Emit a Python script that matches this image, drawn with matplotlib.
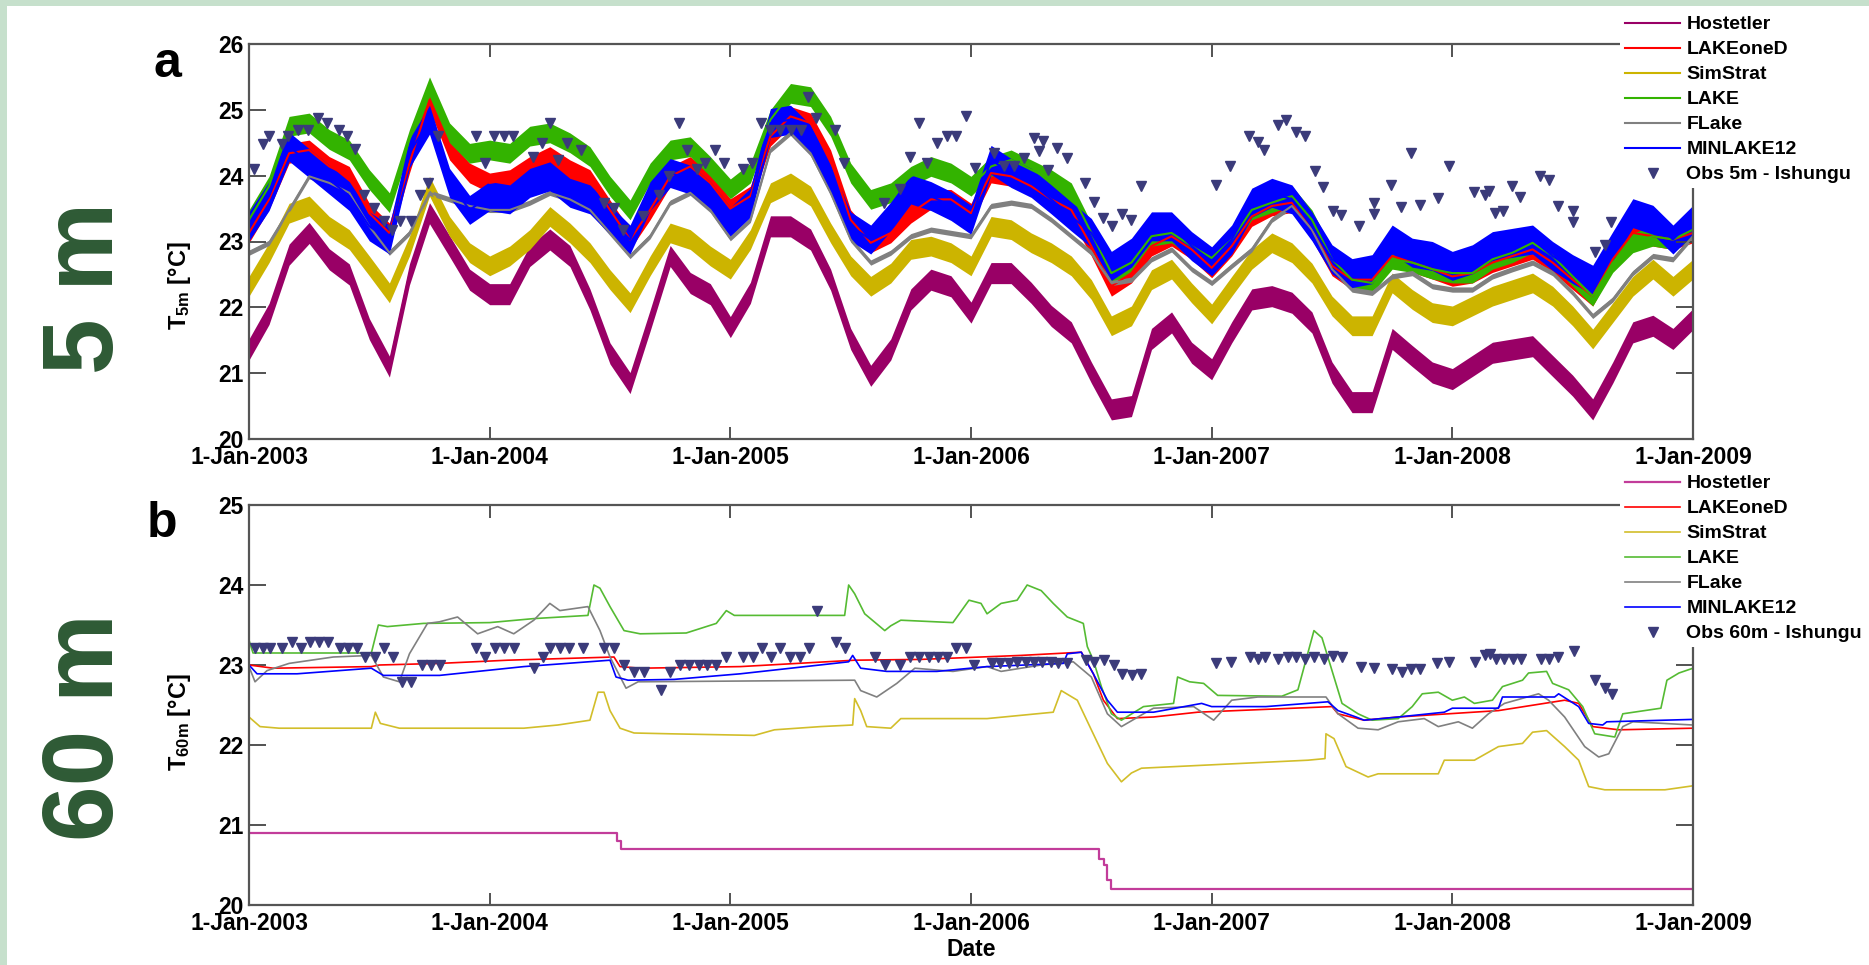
import numpy as np
import matplotlib.pyplot as plt
from matplotlib.patches import Rectangle

plt.rcParams['font.family'] = ['Liberation Sans', 'DejaVu Sans']
plt.rcParams['font.weight'] = 'bold'
plt.rcParams['axes.labelweight'] = 'bold'
plt.rcParams['mathtext.fontset'] = 'custom'
plt.rcParams['mathtext.bf'] = 'Liberation Sans:bold'
plt.rcParams['mathtext.rm'] = 'Liberation Sans:bold'
plt.rcParams['mathtext.default'] = 'bf'

models = ['Hostetler', 'LAKEoneD', 'SimStrat', 'LAKE', 'FLake', 'MINLAKE12']
colors_a = ['#990066', '#ff0000', '#ccb400', '#33b300', '#808080', '#0000ff']
colors_b = ['#c23c9a', '#ff0000', '#d2be2a', '#55bb33', '#808080', '#0000ff']
obs_color = '#3b3b7a'
years = list(range(2003, 2010))

# ---- panel a: 5 m, monthly values from Jan 2003 (month index 0..72)
months_a = np.arange(73)
hostetler_5m = [21.36, 21.9, 22.8, 23.13, 22.73, 22.5, 21.67, 21.1, 22.5, 23.43, 22.93, 22.42, 22.2,
                22.2, 22.78, 23.03, 22.78, 22.12, 21.3, 20.85, 21.8, 22.78, 22.37, 22.2, 21.7,
                22.22, 23.23, 23.23, 23.03, 22.42, 21.52, 20.96, 21.36, 22.12, 22.42, 22.32, 21.92,
                22.52, 22.52, 22.22, 21.87, 21.62, 21.01, 20.45, 20.5, 21.52, 21.77, 21.31, 21.06,
                21.62, 22.12, 22.17, 22.07, 21.77, 21.01, 20.56, 20.56, 21.52, 21.26, 21.01, 20.91,
                21.11, 21.31, 21.36, 21.41, 21.11, 20.81, 20.45, 21.01, 21.62, 21.72, 21.52, 21.82]
lakeoned_5m = [23.13, 23.64, 24.34, 24.39, 24.14, 23.99, 23.43, 23.13, 24.19, 25.15, 24.39, 24.04, 23.89,
               23.94, 24.14, 24.29, 24.09, 23.94, 23.48, 23.03, 23.48, 23.99, 24.14, 23.89, 23.5,
               23.69, 24.6, 24.9, 24.8, 24.24, 23.33, 22.98, 23.13, 23.43, 23.64, 23.64, 23.43,
               24.04, 23.99, 23.84, 23.64, 23.48, 22.93, 22.32, 22.52, 22.93, 23.08, 22.88, 22.6,
               22.93, 23.38, 23.54, 23.59, 23.18, 22.63, 22.42, 22.42, 22.78, 22.68, 22.58, 22.47,
               22.52, 22.68, 22.78, 22.88, 22.68, 22.42, 22.17, 22.73, 23.13, 23.08, 23.03, 23.13]
simstrat_5m = [22.32, 22.83, 23.43, 23.54, 23.23, 23.03, 22.63, 22.22, 22.93, 23.84, 23.23, 22.83, 22.63,
               22.78, 23.03, 23.38, 23.13, 22.83, 22.42, 22.07, 22.63, 23.13, 23.03, 22.78, 22.58,
               23.03, 23.74, 23.89, 23.69, 23.13, 22.63, 22.32, 22.52, 22.88, 22.93, 22.83, 22.63,
               23.23, 23.18, 22.98, 22.83, 22.63, 22.27, 21.72, 21.87, 22.42, 22.58, 22.22, 21.9,
               22.32, 22.73, 22.98, 22.83, 22.52, 22.02, 21.72, 21.72, 22.37, 22.12, 21.92, 21.87,
               22.02, 22.17, 22.27, 22.37, 22.17, 21.87, 21.52, 21.92, 22.32, 22.58, 22.32, 22.58]
lake_5m = [23.33, 23.84, 24.75, 24.8, 24.55, 24.39, 23.94, 23.59, 24.55, 25.35, 24.65, 24.34, 24.39,
           24.34, 24.6, 24.65, 24.5, 24.29, 23.84, 23.48, 24.04, 24.39, 24.44, 24.14, 23.8,
           24.04, 24.85, 25.25, 25.2, 24.75, 24.04, 23.64, 23.74, 23.99, 24.14, 24.04, 23.84,
           24.14, 24.24, 24.09, 23.94, 23.74, 23.13, 22.52, 22.68, 23.08, 23.13, 22.93, 22.75,
           23.03, 23.48, 23.59, 23.69, 23.33, 22.73, 22.42, 22.37, 22.73, 22.68, 22.58, 22.52,
           22.52, 22.73, 22.83, 22.98, 22.78, 22.47, 22.17, 22.68, 22.98, 23.08, 23.03, 23.18]
flake_5m = [22.83, 22.98, 23.48, 23.99, 23.89, 23.74, 23.23, 22.83, 23.13, 23.74, 23.64, 23.54, 23.48,
            23.48, 23.59, 23.74, 23.64, 23.48, 23.13, 22.78, 23.08, 23.59, 23.74, 23.48, 23.05,
            23.33, 24.39, 24.65, 24.34, 23.74, 23.03, 22.68, 22.83, 23.08, 23.18, 23.13, 23.08,
            23.54, 23.59, 23.54, 23.33, 23.08, 22.83, 22.37, 22.42, 22.73, 22.88, 22.58, 22.37,
            22.63, 22.88, 23.33, 23.54, 23.18, 22.58, 22.27, 22.22, 22.47, 22.52, 22.32, 22.27,
            22.27, 22.47, 22.58, 22.68, 22.52, 22.22, 21.87, 22.12, 22.52, 22.78, 22.73, 23.08]
minlake_5m = [23.23, 23.69, 24.44, 24.19, 23.94, 23.69, 23.23, 23.03, 24.34, 24.85, 23.89, 23.48, 23.69,
              23.64, 23.89, 23.99, 23.74, 23.64, 23.33, 23.03, 23.69, 24.04, 23.94, 23.69, 23.3,
              23.59, 24.8, 24.85, 24.55, 23.94, 23.23, 23.03, 23.38, 23.79, 23.69, 23.54, 23.33,
              24.24, 24.04, 23.89, 23.64, 23.38, 23.13, 22.63, 22.83, 23.23, 23.23, 22.93, 22.7,
              23.03, 23.59, 23.74, 23.64, 23.23, 22.73, 22.52, 22.58, 23.03, 22.83, 22.78, 22.63,
              22.73, 22.93, 22.98, 23.03, 22.78, 22.58, 22.42, 22.93, 23.43, 23.33, 23.03, 23.33]
# half-width of the daily scatter around each model curve (deg C)
spread_5m = [0.16, 0.15, 0.15, 0.15, 0.04, 0.22]

obs5_m = [0.25, 0.68, 1.01, 1.63, 1.96, 2.46, 2.96, 3.46, 3.91, 4.51, 4.88, 5.29, 5.74, 6.21, 6.71,
          7.12, 7.54, 8.07, 8.54, 8.95, 9.40, 11.30, 11.75, 12.23, 12.70, 13.16, 14.16, 14.61, 15.02,
          15.39, 15.86, 16.56, 17.69, 18.19, 18.65, 19.65, 20.43, 20.93, 21.43, 21.85, 22.35, 22.76,
          23.26, 23.68, 24.63, 25.08, 25.53, 25.99, 26.5, 27.0, 27.5, 27.86, 28.29, 29.24, 29.69,
          31.65, 32.48, 32.95, 33.40, 33.81, 34.28, 34.81, 35.24, 35.73, 36.18, 37.14, 37.64, 38.14,
          38.64, 39.14, 39.38, 39.60, 39.84, 40.30, 40.77, 41.66, 42.13, 42.59, 43.04, 43.54, 43.99,
          44.46, 48.2, 48.93, 49.86, 50.33, 50.63, 51.33, 51.69, 52.19, 52.63, 53.16, 53.54, 54.03,
          54.46, 55.37, 56.07, 56.07, 56.94, 57.43, 57.92, 58.40, 59.28, 59.85, 61.06, 61.61, 61.81,
          62.14, 62.51, 62.97, 63.39, 64.39, 64.84, 65.27, 66.02, 66.02, 67.10, 67.60, 67.93, 69.96]
obs5_t = [24.10, 24.48, 24.60, 24.48, 24.60, 24.70, 24.70, 24.87, 24.80, 24.70, 24.60, 24.40, 23.71,
          23.51, 23.31, 23.18, 23.31, 23.31, 23.71, 23.89, 24.60, 24.60, 24.20, 24.60, 24.60, 24.60,
          24.29, 24.49, 24.80, 24.24, 24.49, 24.39, 23.59, 23.51, 23.18, 23.38, 23.71, 23.99, 24.80,
          24.39, 24.10, 24.19, 24.39, 24.20, 24.10, 24.20, 24.80, 24.70, 24.70, 24.70, 24.70, 25.20,
          24.87, 24.70, 24.20, 23.59, 23.79, 24.29, 24.80, 24.20, 24.49, 24.60, 24.60, 24.90, 24.12,
          24.34, 24.14, 24.14, 24.27, 24.57, 24.37, 24.52, 24.09, 24.42, 24.27, 23.89, 23.60, 23.36,
          23.23, 23.42, 23.33, 23.84, 23.86, 24.14, 24.61, 24.51, 24.39, 24.77, 24.85, 24.66, 24.60,
          24.07, 23.83, 23.47, 23.40, 23.24, 23.58, 23.42, 23.86, 23.53, 24.34, 23.56, 23.66, 24.15,
          23.75, 23.70, 23.76, 23.44, 23.46, 23.84, 23.68, 24.00, 23.94, 23.54, 23.46, 23.29, 22.84,
          22.95, 23.29, 24.08]

# ---- panel b: 60 m, (month, value) pairs
hostetler_60m_m = [0, 18.35, 18.55, 42.4, 42.63, 42.76, 43.0, 72]
hostetler_60m_t = [20.9, 20.8, 20.7, 20.58, 20.5, 20.31, 20.2, 20.2]
lakeoned_60m_m = [0, 1.2, 6.1, 6.5, 9.5, 12.9, 18.2, 18.5, 19.5, 24.5, 30.2, 33.5, 38.5, 41.5, 42.1,
                  42.6, 43.3, 45.1, 47.3, 54.0, 54.3, 55.6, 57.3, 62.3, 65.6, 66.3, 67.0, 68.3, 72]
lakeoned_60m_t = [23.0, 22.96, 22.98, 23.0, 23.02, 23.06, 23.10, 22.98, 22.96, 22.98, 23.06, 23.07,
                  23.12, 23.16, 22.89, 22.56, 22.33, 22.35, 22.41, 22.48, 22.39, 22.31, 22.35, 22.43,
                  22.56, 22.52, 22.23, 22.19, 22.21]
simstrat_60m_m = [0, 0.55, 1.5, 6.1, 6.3, 6.55, 7.5, 13.7, 15.4, 17.0, 17.4, 17.7, 18.0, 18.5, 19.2,
                  21.0, 25.2, 26.2, 28.5, 30.1, 30.2, 30.5, 30.8, 32.0, 32.5, 36.8, 40.1, 40.5, 41.3,
                  42.0, 42.8, 43.5, 44.0, 44.5, 52.8, 53.65, 53.7, 54.1, 54.7, 55.8, 56.3, 59.3, 59.6,
                  61.1, 62.3, 63.5, 64.0, 64.7, 65.6, 66.3, 66.8, 67.6, 70.6, 72]
simstrat_60m_t = [22.35, 22.23, 22.21, 22.21, 22.41, 22.27, 22.21, 22.21, 22.25, 22.31, 22.66, 22.66,
                  22.43, 22.21, 22.15, 22.14, 22.12, 22.19, 22.23, 22.25, 22.58, 22.43, 22.23, 22.21,
                  22.33, 22.33, 22.41, 22.68, 22.56, 22.19, 21.77, 21.54, 21.65, 21.71, 21.81, 21.83,
                  22.14, 22.08, 21.73, 21.60, 21.64, 21.64, 21.81, 21.81, 21.98, 22.02, 22.16, 22.18,
                  21.98, 21.81, 21.48, 21.44, 21.44, 21.49]
lake_60m_m = [0, 0.2, 6.1, 6.45, 6.9, 8.7, 12.0, 14.2, 16.9, 17.2, 17.5, 18.0, 18.7, 19.5, 21.8, 23.3,
              23.8, 24.2, 29.7, 29.9, 30.2, 30.7, 31.7, 32.0, 32.5, 35.1, 35.9, 36.5, 36.8, 37.5, 38.3,
              38.8, 39.5, 40.1, 40.8, 41.6, 41.8, 42.1, 42.5, 43.0, 43.5, 44.6, 46.1, 46.3, 46.9, 47.6,
              48.3, 51.5, 52.3, 53.1, 53.5, 54.0, 54.5, 55.3, 56.0, 57.3, 58.0, 58.5, 59.3, 60.0, 60.6,
              61.1, 62.0, 62.5, 63.5, 63.8, 64.7, 65.0, 65.8, 66.5, 67.1, 68.1, 68.5, 70.4, 70.7, 71.3, 72]
lake_60m_t = [23.31, 23.15, 23.15, 23.50, 23.48, 23.52, 23.53, 23.58, 23.62, 24.0, 23.96, 23.73, 23.43,
              23.39, 23.40, 23.52, 23.68, 23.62, 23.62, 24.0, 23.89, 23.64, 23.43, 23.49, 23.56, 23.53,
              23.81, 23.77, 23.64, 23.77, 23.81, 24.0, 23.93, 23.77, 23.60, 23.52, 23.23, 23.06, 22.73,
              22.39, 22.31, 22.48, 22.52, 22.85, 22.79, 22.77, 22.62, 22.61, 22.69, 23.43, 23.34, 22.93,
              22.52, 22.39, 22.31, 22.33, 22.48, 22.64, 22.66, 22.56, 22.60, 22.52, 22.56, 22.73, 22.81,
              22.90, 22.92, 22.77, 22.69, 22.48, 22.14, 22.10, 22.39, 22.46, 22.81, 22.90, 22.96]
flake_60m_m = [0, 0.3, 0.9, 2.0, 4.2, 6.1, 6.7, 7.5, 8.0, 8.9, 9.5, 10.4, 11.4, 12.4, 13.2, 14.2, 15.0,
               15.5, 16.9, 17.5, 18.0, 18.8, 19.4, 30.2, 30.5, 31.3, 32.3, 33.2, 35.1, 36.8, 37.5, 39.5,
               41.1, 42.0, 42.8, 43.5, 44.6, 45.1, 47.1, 48.1, 49.0, 50.3, 53.7, 54.3, 55.3, 56.3, 57.3,
               58.6, 59.3, 60.3, 61.0, 61.8, 62.6, 64.3, 64.8, 65.6, 66.6, 67.3, 67.8, 68.5, 69.0, 72]
flake_60m_t = [22.98, 22.79, 22.93, 23.02, 23.10, 23.12, 22.85, 22.79, 23.14, 23.52, 23.54, 23.60,
               23.39, 23.48, 23.39, 23.56, 23.77, 23.68, 23.73, 23.43, 23.10, 22.71, 22.79, 22.81,
               22.68, 22.60, 22.77, 22.96, 22.92, 22.98, 22.92, 23.00, 23.04, 22.85, 22.39, 22.23,
               22.39, 22.46, 22.48, 22.31, 22.56, 22.60, 22.60, 22.39, 22.21, 22.19, 22.29, 22.33,
               22.23, 22.29, 22.21, 22.39, 22.52, 22.64, 22.56, 22.35, 21.98, 21.85, 21.89, 22.23,
               22.29, 22.25]
minlake_60m_m = [0, 0.4, 2.4, 6.1, 6.7, 9.5, 13.7, 18.0, 18.3, 18.9, 21.2, 24.5, 29.9, 30.1, 30.5, 31.8,
                 34.3, 36.8, 40.6, 40.8, 41.5, 42.1, 42.8, 43.3, 45.1, 47.5, 48.0, 50.7, 53.8, 54.3, 55.2,
                 55.6, 57.3, 59.6, 60.0, 62.3, 62.5, 65.1, 65.3, 66.3, 66.8, 67.5, 67.7, 72]
minlake_60m_t = [23.0, 22.89, 22.89, 22.96, 22.87, 22.87, 22.98, 23.06, 22.85, 22.81, 22.82, 22.89,
                 23.04, 23.12, 22.96, 22.92, 22.92, 22.98, 23.02, 23.14, 23.16, 22.89, 22.56, 22.41,
                 22.41, 22.52, 22.48, 22.48, 22.54, 22.43, 22.35, 22.31, 22.35, 22.41, 22.46, 22.46,
                 22.60, 22.60, 22.64, 22.48, 22.27, 22.25, 22.29, 22.32]

obs60_m = [0.30, 0.72, 1.05, 1.63, 2.16, 2.58, 3.04, 3.51, 3.96, 4.54, 4.96, 5.37, 5.79, 6.29, 6.74,
           7.20, 7.62, 8.07, 8.62, 9.08, 9.53, 11.33, 11.78, 12.28, 12.70, 13.19, 14.19, 14.66, 15.02,
           15.49, 15.94, 16.66, 17.72, 18.22, 18.69, 19.18, 19.68, 20.52, 21.01, 21.51, 21.93, 22.43,
           22.85, 23.31, 23.76, 24.63, 25.12, 25.58, 26.03, 26.49, 26.97, 27.46, 27.93, 28.33, 29.29,
           29.70, 31.19, 31.70, 32.48, 32.98, 33.43, 33.90, 34.35, 34.81, 35.24, 35.73, 36.17, 37.06,
           37.47, 37.89, 38.30, 38.72, 39.14, 39.55, 39.97, 40.34, 40.80, 41.71, 42.13, 42.63, 43.13,
           43.55, 44.05, 44.49, 48.2, 48.95, 49.91, 50.30, 50.66, 51.33, 51.79, 52.19, 52.63, 53.12,
           53.62, 54.06, 54.49, 55.44, 56.07, 56.99, 57.48, 57.93, 58.37, 59.26, 59.81, 61.11, 61.64,
           61.89, 62.19, 62.58, 63.01, 63.44, 64.42, 64.84, 65.27, 66.05, 67.10, 67.60, 67.97]
obs60_t = [23.21, 23.21, 23.21, 23.21, 23.29, 23.21, 23.29, 23.29, 23.29, 23.21, 23.21, 23.21, 23.10,
           23.10, 23.21, 23.10, 22.79, 22.79, 23.0, 23.0, 23.0, 23.21, 23.10, 23.21, 23.21, 23.21,
           22.96, 23.10, 23.21, 23.21, 23.21, 23.21, 23.21, 23.21, 23.0, 22.91, 22.91, 22.69, 22.91,
           23.0, 23.0, 23.0, 23.0, 23.0, 23.10, 23.10, 23.10, 23.21, 23.10, 23.21, 23.10, 23.10, 23.21,
           23.68, 23.29, 23.21, 23.10, 23.0, 23.0, 23.10, 23.10, 23.10, 23.10, 23.10, 23.21, 23.21,
           23.0, 23.02, 23.02, 23.02, 23.04, 23.04, 23.04, 23.04, 23.04, 23.03, 23.03, 23.06, 23.04,
           23.06, 23.0, 22.89, 22.87, 22.89, 23.02, 23.04, 23.10, 23.08, 23.10, 23.07, 23.10, 23.10,
           23.08, 23.10, 23.07, 23.11, 23.10, 22.98, 22.96, 22.95, 22.91, 22.95, 22.95, 23.02, 23.04,
           23.04, 23.12, 23.14, 23.08, 23.07, 23.07, 23.08, 23.08, 23.08, 23.10, 23.18, 22.81, 22.71,
           22.64]


def to_year(m):
    return 2003 + np.asarray(m, dtype=float) / 12.0


W, H = 1869, 965
fig = plt.figure(figsize=(W / 100, H / 100), dpi=100)
fig.patch.set_facecolor('#c6e0cc')
fig.add_artist(Rectangle((7 / W, 0), 1, 1 - 6 / H, transform=fig.transFigure,
                         facecolor='white', edgecolor='none', zorder=-10))

ax_a = fig.add_axes([249 / W, 1 - 439 / H, 1444 / W, 395 / H])
ax_b = fig.add_axes([249 / W, 1 - 905 / H, 1444 / W, 400 / H])

# panel a
series_a = [hostetler_5m, lakeoned_5m, simstrat_5m, lake_5m, flake_5m, minlake_5m]
xa = to_year(months_a)
handles_a = []
for name, vals, col, w in zip(models, series_a, colors_a, spread_5m):
    vals = np.array(vals)
    ax_a.fill_between(xa, vals - w, vals + w, color=col, lw=0)
    ln, = ax_a.plot(xa, vals, color=col, lw=1.5, label=name)
    handles_a.append(ln)
ob, = ax_a.plot(to_year(obs5_m), obs5_t, ls='none', marker='v', ms=6.5, color=obs_color,
                label='Obs 5m - Ishungu')
handles_a.append(ob)
ax_a.set_ylim(20, 26)
ax_a.set_yticks(range(20, 27))

# panel b
series_b = [(hostetler_60m_m, hostetler_60m_t), (lakeoned_60m_m, lakeoned_60m_t),
            (simstrat_60m_m, simstrat_60m_t), (lake_60m_m, lake_60m_t),
            (flake_60m_m, flake_60m_t), (minlake_60m_m, minlake_60m_t)]
handles_b = []
for i, (name, (mm, tt), col) in enumerate(zip(models, series_b, colors_b)):
    if i == 0:
        ln, = ax_b.plot(to_year(mm), tt, color=col, lw=1.6, drawstyle='steps-post', label=name)
    else:
        ln, = ax_b.plot(to_year(mm), tt, color=col, lw=1.2, label=name)
    handles_b.append(ln)
ob, = ax_b.plot(to_year(obs60_m), obs60_t, ls='none', marker='v', ms=6.5, color=obs_color,
                label='Obs 60m - Ishungu')
handles_b.append(ob)
ax_b.set_ylim(20, 25)
ax_b.set_yticks(range(20, 26))

for ax in (ax_a, ax_b):
    ax.set_xlim(2003, 2009)
    ax.set_xticks(years)
    ax.set_xticklabels(['1-Jan-%d' % y for y in years])
    ax.tick_params(direction='in', top=True, right=True, labelsize=16.5, width=1.3, colors='#444444',
                   labelcolor='black')
    ax.tick_params(axis='x', length=9, pad=5)
    ax.tick_params(axis='y', length=12, pad=4)
    for sp in ax.spines.values():
        sp.set_color('#555555')
        sp.set_linewidth(1.6)

ax_a.set_ylabel(r'T$_{5m}$ [°C]', fontsize=17)
ax_a.yaxis.set_label_coords(-0.039, 0.387)
ax_b.set_ylabel(r'T$_{60m}$ [°C]', fontsize=17)
ax_b.yaxis.set_label_coords(-0.039, 0.457)
ax_b.set_xlabel('Date', fontsize=16.5, labelpad=2)

leg_kw = dict(loc='upper left', bbox_transform=fig.transFigure, fontsize=14, handlelength=2.85,
              handletextpad=0.31, labelspacing=0.38, borderpad=0.25, borderaxespad=0,
              frameon=True, framealpha=1, facecolor='white', edgecolor='none', fancybox=False,
              numpoints=1)
ax_a.legend(handles=handles_a, bbox_to_anchor=(1620 / W, 1 - 11 / H), **leg_kw)
ax_b.legend(handles=handles_b, bbox_to_anchor=(1620 / W, 1 - 470 / H), **leg_kw)

fig.text(153 / W, 1 - 77 / H, 'a', fontsize=36, ha='left', va='baseline')
fig.text(147 / W, 1 - 537 / H, 'b', fontsize=36, ha='left', va='baseline')

green = '#2e5a35'
fig.text(87 / W, 1 - 288 / H, '5 m', rotation=90, fontsize=72, color=green, ha='center', va='center')
fig.text(87 / W, 1 - 727 / H, '60 m', rotation=90, fontsize=72, color=green, ha='center', va='center')

fig.savefig('out.png', dpi=100, facecolor=fig.get_facecolor())
